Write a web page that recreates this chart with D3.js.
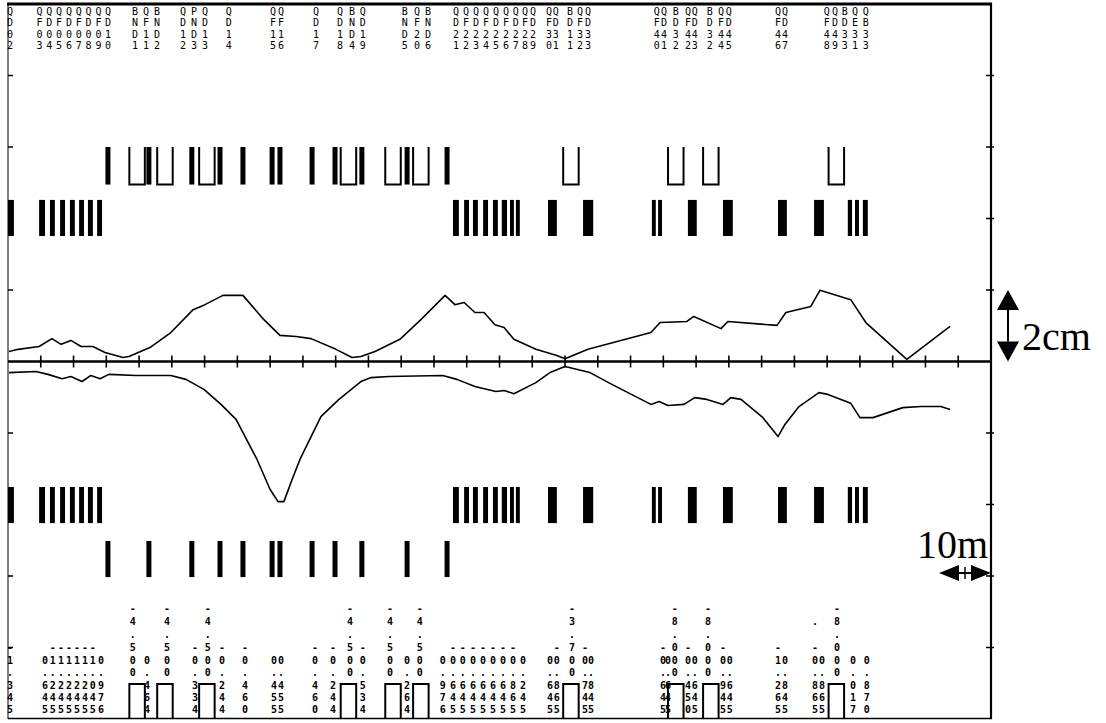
<!DOCTYPE html>
<html><head><meta charset="utf-8">
<script src="https://cdn.jsdelivr.net/npm/d3@7"></script>
<style>body{margin:0;background:#fff}</style>
</head><body>
<svg id="c" width="1106" height="723"></svg>
<script>
// Horizontal position is in lattice stations (0..30), vertical in cm.
const upperCurve = [[0.03,0.28],[0.31,0.34],[0.95,0.42],[1.34,0.64],[1.62,0.48],[1.92,0.59],[2.23,0.42],[2.59,0.42],[2.96,0.25],[3.51,0.11],[3.69,0.14],[4.33,0.39],[4.97,0.81],[5.65,1.45],[6.01,1.59],[6.56,1.85],[7.17,1.85],[7.81,1.17],[8.30,0.73],[8.79,0.70],[9.25,0.64],[10.01,0.34],[10.50,0.11],[10.77,0.14],[11.20,0.28],[11.96,0.62],[12.60,1.17],[13.34,1.85],[13.64,1.59],[13.92,1.65],[14.25,1.37],[14.53,1.37],[14.86,1.03],[15.14,0.95],[15.44,0.62],[16.11,0.34],[16.75,0.17],[17.00,0.08],[17.70,0.34],[19.62,0.81],[19.90,1.09],[20.72,1.12],[20.93,1.26],[21.76,0.92],[21.97,1.12],[23.47,1.01],[23.74,1.37],[24.50,1.54],[24.78,1.99],[25.72,1.73],[26.18,1.09],[27.43,0.06],[28.75,0.98]];
const lowerCurve = [[0.03,0.31],[0.85,0.28],[1.22,0.36],[1.65,0.48],[1.92,0.42],[2.26,0.56],[2.53,0.39],[2.81,0.48],[3.08,0.36],[3.91,0.39],[4.97,0.39],[5.43,0.50],[5.98,0.78],[6.50,1.20],[6.96,1.62],[7.60,2.74],[8.00,3.58],[8.24,3.92],[8.42,3.92],[8.67,3.30],[8.91,2.74],[9.55,1.54],[10.10,1.06],[10.77,0.56],[11.08,0.45],[11.63,0.42],[13.27,0.39],[13.70,0.50],[14.25,0.70],[14.89,0.84],[15.14,0.81],[15.44,0.90],[16.11,0.59],[16.54,0.31],[17.00,0.14],[17.76,0.31],[18.43,0.64],[19.62,1.20],[19.87,1.12],[20.14,1.23],[20.63,1.20],[20.96,1.01],[21.33,1.06],[21.82,1.20],[22.06,1.01],[22.37,1.06],[23.04,1.57],[23.50,2.10],[23.71,1.76],[24.14,1.26],[24.75,0.87],[25.02,0.92],[25.72,1.17],[26.00,1.57],[26.40,1.57],[27.31,1.29],[27.86,1.26],[28.47,1.26],[28.75,1.34]];

// quadrupole extents [start, end]
const quadSpans = [[0,0.18],[0.95,1.13],[1.28,1.43],[1.59,1.74],[1.89,2.04],[2.17,2.32],[2.44,2.59],[2.72,2.87],[13.58,13.76],[13.92,14.07],[14.19,14.34],[14.50,14.65],[14.80,14.95],[15.07,15.23],[15.32,15.44],[15.50,15.62],[16.48,16.75],[17.55,17.86],[19.65,19.77],[19.84,19.96],[20.75,21.02],[21.82,22.12],[23.50,23.77],[24.60,24.90],[25.63,25.76],[25.85,25.97],[26.09,26.24]];
// thin element centres
const thinCentres = [3.05,4.30,5.61,6.47,7.17,8.06,8.30,9.28,9.98,10.80,12.18,13.40];
// bend centres
const bendCentres = [3.94,4.79,6.07,10.39,11.75,12.60,17.18,20.38,21.45,25.28];

const topLabels = [[0.06,"QD02"],[0.96,"QF03"],[1.26,"QD04"],[1.56,"QF05"],[1.86,"QD06"],[2.16,"QF07"],[2.46,"QD08"],[2.76,"QF09"],[3.05,"QD10"],[3.88,"BND1"],[4.21,"QF11"],[4.55,"BND2"],[5.34,"QD12"],[5.68,"PND3"],[6.01,"QD13"],[6.74,"QD14"],[8.09,"QF15"],[8.33,"QF16"],[9.40,"QD17"],[10.13,"QD18"],[10.50,"BND4"],[10.83,"QD19"],[12.11,"BND5"],[12.48,"QF20"],[12.82,"BND6"],[13.67,"QD21"],[13.98,"QF22"],[14.28,"QD23"],[14.59,"QF24"],[14.89,"QD25"],[15.20,"QF26"],[15.50,"QD27"],[15.78,"QF28"],[16.02,"QD29"],[16.51,"QF30"],[16.72,"QD31"],[17.15,"BD11"],[17.46,"QF32"],[17.70,"QD33"],[19.80,"QF40"],[20.02,"QD41"],[20.38,"BD32"],[20.75,"QF42"],[20.96,"QD43"],[21.42,"BD32"],[21.76,"QF44"],[22.00,"QD45"],[23.50,"QF46"],[23.71,"QD47"],[24.99,"QF48"],[25.24,"QD49"],[25.54,"BD33"],[25.85,"QE31"],[26.18,"QB33"]];

const bottomLabels = [[0.06,"   -1.345"],[1.13,"    0.645"],[1.37,"   -1.245"],[1.62,"   -1.245"],[1.86,"   -1.245"],[2.11,"   -1.245"],[2.35,"   -1.245"],[2.59,"   -1.045"],[2.84,"    0.976"],[3.81,"-4.500   "],[4.24,"    0.464"],[4.85,"-4.500   "],[5.71,"   -0.334"],[6.10,"-4.500   "],[6.53,"   -0.244"],[7.23,"   -0.460"],[8.12,"    0.455"],[8.33,"    0.455"],[9.37,"   -0.460"],[9.92,"   -0.244"],[10.44,"-4.500   "],[10.83,"   -0.534"],[11.66,"-4.500   "],[12.18,"    0.264"],[12.57,"-4.500   "],[13.27,"    0.976"],[13.58,"   -0.645"],[13.88,"   -0.645"],[14.19,"   -0.645"],[14.50,"   -0.645"],[14.80,"   -0.645"],[15.11,"   -0.645"],[15.41,"   -0.865"],[15.72,"    0.245"],[16.54,"    0.645"],[16.75,"   -0.865"],[17.21,"-3.700   "],[17.61,"   -0.745"],[17.79,"    0.845"],[19.99,"   -0.645"],[20.14,"    0.645"],[20.35,"-8.000   "],[20.75,"   -0.450"],[20.96,"    0.645"],[21.36,"-8.000   "],[21.82,"   -0.945"],[22.03,"    0.645"],[23.50,"   -1.265"],[23.71,"    0.845"],[24.63," . -0.865"],[24.84,"    0.865"],[25.30,"-8.000   "],[25.79,"    0.017"],[26.21,"    0.870"]];

const stationTicks = d3.range(1, 30);
const frameTicks = [-8, -6, -4, -2, 2, 4, 6, 8];

const svg = d3.select('#c');
const x = d3.scaleLinear().domain([0, 30]).range([8, 991]);
const y = d3.scaleLinear().domain([-10, 10]).range([719, 4]);

// layout of the element rows (cm)
const rowBends = [4.95, 6.0];
const rowQuadUp = [3.51, 4.52];
const rowQuadDn = [-4.52, -3.51];
const rowThinDn = [-6.03, -5.02];
const thinW = 5, bendW = 15.5;
const topRowY = [11, 22.5, 34, 45.5];
const botRowY = [608, 621, 634, 647, 660, 672, 685, 697, 709];
const boxTop = 684, boxBottom = 718;

// frame
const g = svg.append('g');
g.append('line').attr('x1', 8).attr('x2', 8).attr('y1', 4).attr('y2', 719).attr('stroke', '#000').attr('stroke-width', 1);
g.append('line').attr('x1', 991).attr('x2', 991).attr('y1', 3).attr('y2', 719).attr('stroke', '#000').attr('stroke-width', 2.2);
g.append('line').attr('x1', 7).attr('x2', 992).attr('y1', 4).attr('y2', 4).attr('stroke', '#000').attr('stroke-width', 2.8);
g.append('line').attr('x1', 8).attr('x2', 992).attr('y1', 718.5).attr('y2', 718.5).attr('stroke', '#000').attr('stroke-width', 1.4);
g.selectAll('.fl').data(frameTicks).join('line')
  .attr('x1', 8).attr('x2', 13).attr('y1', d => y(d)).attr('y2', d => y(d))
  .attr('stroke', '#000').attr('stroke-width', 1.5);
g.selectAll('.fr').data(frameTicks).join('line')
  .attr('x1', 986).attr('x2', 994).attr('y1', d => y(d)).attr('y2', d => y(d))
  .attr('stroke', '#000').attr('stroke-width', 1.5);

// central axis with station ticks
g.append('line').attr('x1', x(0)).attr('x2', x(30)).attr('y1', y(0)).attr('y2', y(0))
  .attr('stroke', '#000').attr('stroke-width', 2.6);
g.selectAll('.st').data(stationTicks).join('line')
  .attr('x1', d => x(d)).attr('x2', d => x(d))
  .attr('y1', y(0) - 6).attr('y2', y(0) + 6)
  .attr('stroke', '#000').attr('stroke-width', 1.6);

// curves
const line = d3.line().x(d => x(d[0])).y(d => y(d[1]));
g.append('path').attr('d', line(upperCurve)).attr('fill', 'none').attr('stroke', '#000').attr('stroke-width', 1.6).attr('stroke-linejoin', 'round');
g.append('path').attr('d', line(lowerCurve.map(d => [d[0], -d[1]]))).attr('fill', 'none').attr('stroke', '#000').attr('stroke-width', 1.6).attr('stroke-linejoin', 'round');

// quadrupole rows
[rowQuadUp, rowQuadDn].forEach(r => {
  g.append('g').selectAll('rect').data(quadSpans).join('rect')
    .attr('x', d => x(d[0])).attr('width', d => Math.max(2, x(d[1]) - x(d[0])))
    .attr('y', y(r[1])).attr('height', y(r[0]) - y(r[1]))
    .attr('fill', '#000');
});
// thin elements
[rowBends, rowThinDn].forEach(r => {
  g.append('g').selectAll('rect').data(thinCentres).join('rect')
    .attr('x', d => x(d) - thinW / 2).attr('width', thinW)
    .attr('y', y(r[1])).attr('height', y(r[0]) - y(r[1]))
    .attr('fill', '#000');
});
// bends as open troughs in the upper row
g.append('g').selectAll('path').data(bendCentres).join('path')
  .attr('d', d => {
    const a = x(d) - bendW / 2, b = x(d) + bendW / 2;
    return `M${a},${y(rowBends[1])}V${y(rowBends[0])}H${b}V${y(rowBends[1])}`;
  })
  .attr('fill', 'none').attr('stroke', '#000').attr('stroke-width', 2);
// bends as open boxes along the bottom
g.append('g').selectAll('path').data(bendCentres).join('path')
  .attr('d', d => {
    const a = x(d) - bendW / 2, b = x(d) + bendW / 2;
    return `M${a},${boxBottom}V${boxTop}H${b}V${boxBottom}`;
  })
  .attr('fill', 'none').attr('stroke', '#000').attr('stroke-width', 2);

// element names, stacked one character per row
const font = "'DejaVu Sans Mono', monospace";
topLabels.forEach(([u, s]) => {
  g.append('g').selectAll('text').data(s.split('')).join('text')
    .attr('x', x(u)).attr('y', (c, i) => topRowY[i])
    .attr('text-anchor', 'middle').attr('dominant-baseline', 'central')
    .attr('font-family', font).attr('font-size', 10).attr('fill', '#000')
    .text(c => c);
});
// element strengths
bottomLabels.forEach(([u, s]) => {
  g.append('g').selectAll('text').data(s.split('')).join('text')
    .attr('x', x(u)).attr('y', (c, i) => botRowY[i])
    .attr('text-anchor', 'middle').attr('dominant-baseline', 'central')
    .attr('font-family', font).attr('font-size', 10).attr('font-weight', 'bold').attr('fill', '#000')
    .text(c => c === ' ' ? '' : c);
});

// vertical scale bar: 2 cm
const ax = 1008, aw = 11, ah = 20;
const yTop = y(2), yBot = y(0);
g.append('path').attr('d', `M${ax},${yTop}L${ax - aw},${yTop + ah}H${ax + aw}Z`).attr('fill', '#000');
g.append('path').attr('d', `M${ax},${yBot}L${ax - aw},${yBot - ah}H${ax + aw}Z`).attr('fill', '#000');
g.append('line').attr('x1', ax).attr('x2', ax).attr('y1', yTop + ah).attr('y2', yBot - ah).attr('stroke', '#000').attr('stroke-width', 2);
g.append('text').attr('x', 1022).attr('y', 350).attr('font-family', "'Liberation Serif', serif").attr('font-size', 40).text('2cm');

// horizontal scale bar: 10 m
const hx1 = 939, hx2 = 991, hy = 573, hl = 20, hh = 8;
g.append('path').attr('d', `M${hx1},${hy}L${hx1 + hl},${hy - hh}V${hy + hh}Z`).attr('fill', '#000');
g.append('path').attr('d', `M${hx2},${hy}L${hx2 - hl},${hy - hh}V${hy + hh}Z`).attr('fill', '#000');
g.append('line').attr('x1', hx1 + hl).attr('x2', hx2 - hl).attr('y1', hy).attr('y2', hy).attr('stroke', '#000').attr('stroke-width', 2);
g.append('line').attr('x1', (hx1 + hx2) / 2).attr('x2', (hx1 + hx2) / 2).attr('y1', hy - 6).attr('y2', hy + 6).attr('stroke', '#000').attr('stroke-width', 1.5);
g.append('text').attr('x', 917).attr('y', 558).attr('font-family', "'Liberation Serif', serif").attr('font-size', 40).text('10m');
</script>
</body></html>
